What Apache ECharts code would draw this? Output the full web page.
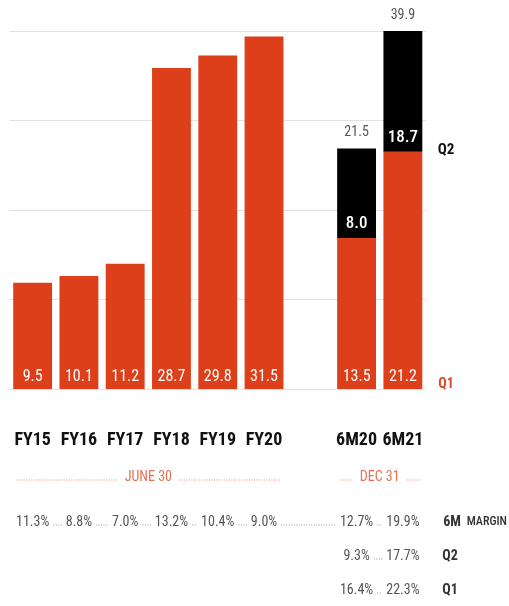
<!DOCTYPE html>
<html>
<head>
<meta charset="utf-8">
<script src="https://cdn.jsdelivr.net/npm/echarts@6/dist/echarts.min.js"></script>
<style>
  html, body { margin: 0; padding: 0; background: #fff; }
  #chart { width: 509px; height: 606px; }
</style>
</head>
<body>
<div id="chart"></div>
<script>
// Periods: six financial years (to June 30), a spacer, then two half-years (to Dec 31)
const categories = ['FY15', 'FY16', 'FY17', 'FY18', 'FY19', 'FY20', '', '6M20', '6M21'];
// First-quarter (or full-year) values and second-quarter values, A$m
const q1Values = [9.5, 10.1, 11.2, 28.7, 29.8, 31.5, null, 13.5, 21.2];
const q2Values = [null, null, null, null, null, null, null, 8.0, 18.7];
const totals   = [null, null, null, null, null, null, null, 21.5, 39.9];
// Margin rows shown under the axis
const margin6M = ['11.3%', '8.8%', '7.0%', '13.2%', '10.4%', '9.0%', null, '12.7%', '19.9%'];
const marginQ2 = [null, null, null, null, null, null, null, '9.3%', '17.7%'];
const marginQ1 = [null, null, null, null, null, null, null, '16.4%', '22.3%'];
// Value axis ticks
const axisMin = 0, axisMax = 32, axisStep = 8;

const ORANGE = '#dd3f1b';
const FONT = '"Roboto Condensed", "Open Sans", sans-serif';

const chart = echarts.init(document.getElementById('chart'), null, { renderer: 'canvas' });

const option = {
  animation: false,
  backgroundColor: '#ffffff',
  grid: { left: 9.5, right: 83, top: 31, bottom: 217, containLabel: false },
  xAxis: {
    type: 'category',
    data: categories,
    axisLine: { show: false },
    axisTick: { show: false },
    axisLabel: {
      interval: 0,
      margin: 42,
      fontFamily: FONT,
      fontWeight: 'bold',
      fontSize: 18,
      color: '#111'
    }
  },
  yAxis: {
    type: 'value',
    min: axisMin,
    max: axisMax,
    interval: axisStep,
    axisLine: { show: false },
    axisTick: { show: false },
    axisLabel: { show: false },
    splitLine: { lineStyle: { color: '#e2e2e2', width: 1 } }
  },
  series: [
    {
      name: 'Q1',
      type: 'bar',
      stack: 'half',
      data: q1Values,
      barCategoryGap: '16%',
      barGap: '-100%',
      itemStyle: { color: ORANGE },
      label: {
        show: true,
        position: 'insideBottom',
        distance: 4,
        color: '#fff',
        fontFamily: FONT,
        fontSize: 16,
        formatter: p => p.value.toFixed(1)
      }
    },
    {
      name: 'Q2',
      type: 'bar',
      stack: 'half',
      data: q2Values,
      barCategoryGap: '16%',
      barGap: '-100%',
      itemStyle: { color: '#000' },
      label: {
        show: true,
        position: 'insideBottom',
        distance: 6,
        color: '#fff',
        fontFamily: FONT,
        fontWeight: 500,
        fontSize: 17,
        formatter: p => p.value.toFixed(1)
      }
    },
    {
      name: 'Total',
      type: 'bar',
      data: totals,
      barCategoryGap: '16%',
      barGap: '-100%',
      z: 1,
      itemStyle: { color: 'rgba(0,0,0,0)' },
      label: {
        show: true,
        position: 'top',
        distance: 9,
        color: '#555',
        fontFamily: FONT,
        fontSize: 14,
        formatter: p => p.value.toFixed(1)
      }
    }
  ]
};

chart.setOption(option);

// ---- Annotations under and beside the plot, placed from the category axis ----
const measureCtx = document.createElement('canvas').getContext('2d');
function textWidth(str, size, weight) {
  measureCtx.font = (weight || 'normal') + ' ' + size + 'px ' + FONT;
  return measureCtx.measureText(str).width;
}
const xc = categories.map((c, i) => chart.convertToPixel({ xAxisIndex: 0 }, i));
const band = xc[1] - xc[0];
const barHalf = band * (1 - 0.16) / 2;

const graphics = [];
function addText(x, y, str, opts) {
  graphics.push({
    type: 'text',
    x: x, y: y,
    silent: true,
    style: Object.assign({
      text: str,
      fontFamily: FONT,
      fontSize: 14,
      fill: '#555',
      align: 'center',
      verticalAlign: 'middle'
    }, opts || {})
  });
}
function addDots(x1, x2, y, color) {
  if (x2 - x1 < 2) return;
  graphics.push({
    type: 'line',
    silent: true,
    shape: { x1: x1, y1: y, x2: x2, y2: y },
    style: { stroke: color, lineWidth: 1, lineDash: [1, 1.5] }
  });
}

// A row of values linked by dotted leaders
function marginRow(values, y) {
  const items = [];
  values.forEach((v, i) => {
    if (v == null) return;
    addText(xc[i], y, v, { fontSize: 14, fill: '#555' });
    items.push({ x: xc[i], w: textWidth(v, 14) });
  });
  for (let k = 0; k < items.length - 1; k++) {
    const a = items[k], b = items[k + 1];
    addDots(a.x + a.w / 2 + 4, b.x - b.w / 2 - 4, y + 3, '#999');
  }
}

// Period headings with dotted rules spanning their bars
function periodRule(i0, i1, label, y) {
  const left = xc[i0] - barHalf, right = xc[i1] + barHalf;
  const mid = (left + right) / 2;
  const w = textWidth(label, 14);
  addText(mid, y, label, { fill: '#e8704f', fontSize: 14 });
  addDots(left + 3, mid - w / 2 - 7, y + 3, '#ee8a70');
  addDots(mid + w / 2 + 7, right - 2, y + 3, '#ee8a70');
}

periodRule(0, 5, 'JUNE 30', 477);
periodRule(7, 8, 'DEC 31', 477);

marginRow(margin6M, 522);
marginRow(marginQ2, 556);
marginRow(marginQ1, 590);

// Row headings on the right
const headStyle = { fontSize: 14, fill: '#333', fontWeight: 'bold' };
addText(452, 522, '6M', headStyle);
addText(507, 522, 'MARGIN', { fontSize: 12, fill: '#333', fontWeight: 500, align: 'right' });
addText(450, 556, 'Q2', headStyle);
addText(450, 590, 'Q1', headStyle);

// Series names beside the stacked bars
addText(446, 150, 'Q2', { fontSize: 15, fill: '#111', fontWeight: 'bold' });
addText(446, 384, 'Q1', { fontSize: 14, fill: '#d94a2a', fontWeight: 'bold' });

chart.setOption({ graphic: graphics });
</script>
</body>
</html>
